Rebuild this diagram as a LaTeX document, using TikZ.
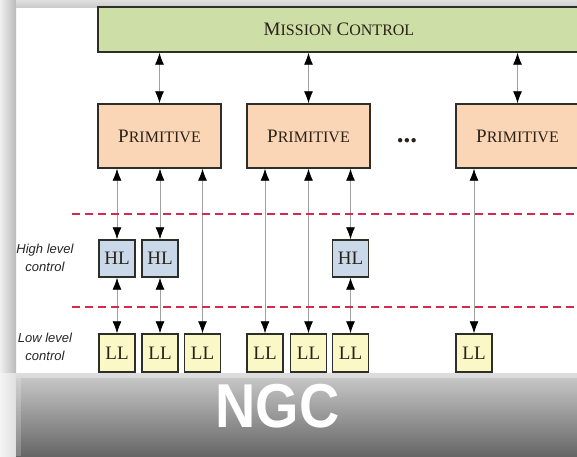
\documentclass[tikz,border=0pt]{standalone}
\usepackage{fontspec}
\newfontfamily\labelfont{Liberation Sans}
\newfontfamily\boxfont{Liberation Serif}
\usetikzlibrary{arrows.meta}

\definecolor{mcgreen}{HTML}{CDDEA6}
\definecolor{primpeach}{HTML}{FBD6B6}
\definecolor{hlblue}{HTML}{C9D9EA}
\definecolor{llyellow}{HTML}{FAF8C6}
\definecolor{boxline}{HTML}{2E2E28}
\definecolor{boxtext}{HTML}{2A2218}
\definecolor{linkgrey}{HTML}{A0A0A0}
\definecolor{dashred}{HTML}{D42A4E}
\definecolor{bannertop}{HTML}{CCCCCC}
\definecolor{bannermid}{HTML}{A6A6A6}
\definecolor{bannerbot}{HTML}{666666}

% caps with a larger first letter, in the manner of small capitals
\newcommand{\capword}[2]{{\fontsize{19}{20}\selectfont #1}{\fontsize{16}{20}\selectfont #2}}

\tikzset{
  box/.style={draw=boxline, line width=1.4pt, text=boxtext, inner sep=0pt, font=\boxfont},
  mcbox/.style={box, fill=mcgreen, minimum width=482pt, minimum height=45pt},
  primbox/.style={box, fill=primpeach, minimum width=123pt, minimum height=64pt},
  hlbox/.style={box, fill=hlblue, minimum width=36pt, minimum height=37pt,
    font=\boxfont\fontsize{19}{20}\selectfont},
  llbox/.style={box, fill=llyellow, minimum width=36pt, minimum height=38pt,
    font=\boxfont\fontsize{19}{20}\selectfont},
  link/.style={draw=linkgrey, line width=0.8pt,
    {Latex[length=12pt,width=9pt,color=black]}-{Latex[length=12pt,width=9pt,color=black]}},
  levelrule/.style={draw=dashred, line width=2.4pt, dash pattern=on 8pt off 5pt},
  levellabel/.style={font=\labelfont\itshape\fontsize{13}{18}\selectfont,
    text=black!85, align=center, inner sep=0pt}
}

\begin{document}
\begin{tikzpicture}[x=1pt,y=-1pt]
  \useasboundingbox (0,0) rectangle (577,456);
  \clip (0,0) rectangle (577,456);

  % page frame
  \fill[white] (0,0) rectangle (577,456);
  \shade[left color=gray!12, right color=gray!55] (0,0) rectangle (16,373);
  \shade[left color=gray!8, right color=gray!25] (0,373) rectangle (16,456);
  \shade[top color=gray!25, bottom color=gray!40] (16,0) rectangle (577,7);

  % top level
  \node[mcbox] (mc) at (339,29.5) {\capword{M}{ISSION}\hspace{4.5pt}\capword{C}{ONTROL}};

  % primitives
  \node[primbox] (p1) at (159.5,136) {\capword{P}{RIMITIVE}};
  \node[primbox] (p2) at (308.5,136) {\capword{P}{RIMITIVE}};
  \node[primbox] (p3) at (517.5,136) {\capword{P}{RIMITIVE}};
  \node[font=\boxfont\fontsize{27}{28}\selectfont\bfseries, text=boxtext,
        anchor=base, inner sep=0pt] (dots) at (407,142) {...};

  % high level controllers
  \node[hlbox] (h1) at (117,258.5) {HL};
  \node[hlbox] (h2) at (160,258.5) {HL};
  \node[hlbox] (h3) at (350.5,258.5) {HL};

  % low level controllers
  \node[llbox] (l1) at (117,353) {LL};
  \node[llbox] (l2) at (160,353) {LL};
  \node[llbox] (l3) at (202.5,353) {LL};
  \node[llbox] (l4) at (265,353) {LL};
  \node[llbox] (l5) at (308.5,353) {LL};
  \node[llbox] (l6) at (350.5,353) {LL};
  \node[llbox] (l7) at (474,353) {LL};

  % mission control <-> primitives
  \draw[link] (mc.south -| p1) -- (p1.north);
  \draw[link] (mc.south -| p2) -- (p2.north);
  \draw[link] (mc.south -| p3) -- (p3.north);

  % primitives <-> controllers
  \draw[link] (p1.south -| h1) -- (h1.north);
  \draw[link] (p1.south -| h2) -- (h2.north);
  \draw[link] (p1.south -| l3) -- (l3.north);
  \draw[link] (p2.south -| l4) -- (l4.north);
  \draw[link] (p2.south -| l5) -- (l5.north);
  \draw[link] (p2.south -| h3) -- (h3.north);
  \draw[link] (p3.south -| l7) -- (l7.north);

  % high level <-> low level
  \draw[link] (h1.south) -- (l1.north);
  \draw[link] (h2.south) -- (l2.north);
  \draw[link] (h3.south) -- (l6.north);

  % level separators
  \coordinate (r1a) at (72,214);
  \coordinate (r1b) at (580,214);
  \coordinate (r2a) at (72,307);
  \coordinate (r2b) at (580,307);
  \draw[levelrule] (r1a) -- (r1b);
  \draw[levelrule] (r2a) -- (r2b);

  % level labels
  \node[levellabel] (hlabel) at (45,258) {High level\\control};
  \node[levellabel] (llabel) at (45,347) {Low level\\control};

  % title banner
  \shade[top color=bannertop, middle color=bannermid, bottom color=bannerbot]
    (16,373) rectangle (580,456);
  \fill[white, opacity=0.35] (16,373) rectangle (580,378);
  \fill[white, opacity=0.2] (16,378) rectangle (21,456);
  \node[font=\labelfont\bfseries\fontsize{62}{62}\selectfont, text=white,
        xscale=0.9, inner sep=0pt] (title) at (277.5,406.5) {NGC};
\end{tikzpicture}
\end{document}
